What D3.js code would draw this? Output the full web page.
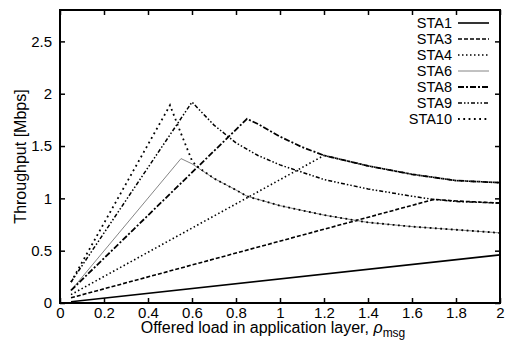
<!DOCTYPE html>
<html>
<head>
<meta charset="utf-8">
<script src="https://cdn.jsdelivr.net/npm/d3@7"></script>
<style>
  body { margin: 0; background: #fff; }
  svg { display: block; font-family: "Liberation Sans", Arial, sans-serif; }
</style>
</head>
<body>
<svg width="507" height="350"></svg>
<script>
// data: [offered load, throughput Mbps]
const sta1 = [[0.05, 0.012], [2, 0.46]];
const sta3 = [[0.05, 0.05], [1.7, 0.99], [1.8, 0.975], [2, 0.955]];
const sta4 = [[0.05, 0.08], [1.2, 1.41], [1.4, 1.31], [1.6, 1.23], [1.7, 1.2], [1.8, 1.17], [2, 1.15]];
const sta6 = [[0.05, 0.12], [0.55, 1.38], [0.6, 1.33], [0.7, 1.19], [0.8, 1.08], [0.85, 1.02], [1, 0.93], [1.2, 0.84], [1.4, 0.77], [1.6, 0.73], [1.8, 0.7], [2, 0.67]];
const sta8 = [[0.05, 0.12], [0.85, 1.76], [0.9, 1.71], [1, 1.59], [1.1, 1.49], [1.2, 1.41], [1.4, 1.31], [1.6, 1.23], [1.7, 1.2], [1.8, 1.17], [2, 1.15]];
const sta9 = [[0.05, 0.2], [0.6, 1.92], [0.7, 1.7], [0.8, 1.53], [0.9, 1.41], [1, 1.32], [1.2, 1.18], [1.4, 1.09], [1.6, 1.02], [1.7, 0.99], [1.8, 0.97], [2, 0.955]];
const sta10 = [[0.05, 0.2], [0.5, 1.89], [0.55, 1.62], [0.6, 1.36], [0.62, 1.31], [0.7, 1.19], [0.8, 1.08], [0.85, 1.02], [1, 0.93], [1.2, 0.84], [1.4, 0.77], [1.6, 0.73], [1.8, 0.7], [2, 0.67]];

const names = ["STA1", "STA3", "STA4", "STA6", "STA8", "STA9", "STA10"];
const xTicks = [0, 0.2, 0.4, 0.6, 0.8, 1, 1.2, 1.4, 1.6, 1.8, 2];
const yTicks = [0, 0.5, 1, 1.5, 2, 2.5];

const series = [sta1, sta3, sta4, sta6, sta8, sta9, sta10];
const styles = [
    { dash: null, width: 1.6, color: "#000" },
    { dash: "4,2", width: 1.6, color: "#000" },
    { dash: "1.5,2.5", width: 1.6, color: "#000" },
    { dash: null, width: 0.9, color: "#777" },
    { dash: "6,2,2,2", width: 1.8, color: "#000" },
    { dash: "4,2,1.5,2,1.5,2", width: 1.5, color: "#000" },
    { dash: "1.8,3.5", width: 1.8, color: "#000" }
];

const svg = d3.select("svg");
const area = { left: 60, right: 500, top: 10, bottom: 303 };

const scX = d3.scaleLinear().domain([0, 2]).range([area.left, area.right]);
const scY = d3.scaleLinear().domain([0, 2.8]).range([area.bottom, area.top]);

// axes with inward ticks, mirrored on top and right
const axB = svg.append("g")
    .attr("transform", `translate(0, ${area.bottom})`)
    .call(d3.axisBottom(scX).tickValues(xTicks).tickSizeInner(-5).tickSizeOuter(0).tickPadding(4).tickFormat(d3.format("")));
const axT = svg.append("g")
    .attr("transform", `translate(0, ${area.top})`)
    .call(d3.axisTop(scX).tickValues(xTicks).tickSizeInner(-5).tickSizeOuter(0).tickFormat(""));
const axL = svg.append("g")
    .attr("transform", `translate(${area.left}, 0)`)
    .call(d3.axisLeft(scY).tickValues(yTicks).tickSizeInner(-5).tickSizeOuter(0).tickPadding(8).tickFormat(d3.format("")));
const axR = svg.append("g")
    .attr("transform", `translate(${area.right}, 0)`)
    .call(d3.axisRight(scY).tickValues(yTicks).tickSizeInner(-5).tickSizeOuter(0).tickFormat(""));

[axB, axT, axL, axR].forEach(g => {
    g.select(".domain").remove();
    g.selectAll("line").attr("stroke", "#000").attr("stroke-width", 1.5);
    g.selectAll("text").attr("font-size", 15).attr("fill", "#000")
        .attr("font-family", "'Liberation Sans', Arial, sans-serif");
});

const line = d3.line()
    .x(d => scX(d[0]))
    .y(d => scY(d[1]));

series.forEach((s, i) => {
    svg.append("path")
        .datum(s)
        .attr("fill", "none")
        .attr("stroke", styles[i].color)
        .attr("stroke-width", styles[i].width)
        .attr("stroke-dasharray", styles[i].dash)
        .attr("d", line);
});

// frame
svg.append("rect")
    .attr("x", area.left)
    .attr("y", area.top)
    .attr("width", area.right - area.left)
    .attr("height", area.bottom - area.top)
    .attr("fill", "none")
    .attr("stroke", "#000")
    .attr("stroke-width", 2);

// legend
const legend = svg.append("g");
names.forEach((name, i) => {
    const y = 23 + i * 16;
    legend.append("text")
        .attr("x", 452)
        .attr("y", y + 5)
        .attr("text-anchor", "end")
        .attr("font-size", 14.5)
        .text(name);
    legend.append("line")
        .attr("x1", 458).attr("x2", 489)
        .attr("y1", y).attr("y2", y)
        .attr("stroke", styles[i].color)
        .attr("stroke-width", styles[i].width)
        .attr("stroke-dasharray", styles[i].dash);
});

// axis titles
svg.append("text")
    .attr("x", 273)
    .attr("y", 333)
    .attr("text-anchor", "middle")
    .attr("font-size", 16)
    .text("Offered load in application layer, ")
    .append("tspan").attr("font-style", "italic").text("ρ")
    .append("tspan").attr("font-style", "normal").attr("dy", 4).attr("font-size", 12).text("msg");

svg.append("text")
    .attr("transform", `translate(26, ${(area.top + area.bottom) / 2}) rotate(-90)`)
    .attr("text-anchor", "middle")
    .attr("font-size", 16)
    .text("Throughput [Mbps]");
</script>
</body>
</html>
